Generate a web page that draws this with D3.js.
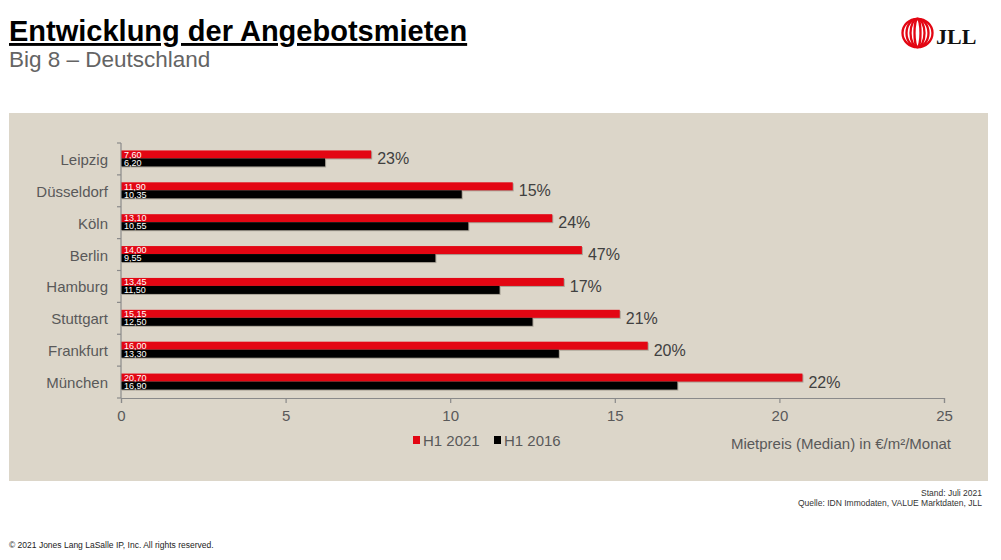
<!DOCTYPE html>
<html>
<head>
<meta charset="utf-8">
<script src="https://cdn.jsdelivr.net/npm/d3@7"></script>
<style>
  html, body { margin:0; padding:0; background:#fff; }
  svg { display:block; font-family:"Liberation Sans", Arial, sans-serif; }
</style>
</head>
<body>
<svg id="chart" width="1001" height="560"></svg>
<script>
// ---- data ----
const cities   = ["Leipzig","Düsseldorf","Köln","Berlin","Hamburg","Stuttgart","Frankfurt","München"];
const rent2021 = [7.60, 11.90, 13.10, 14.00, 13.45, 15.15, 16.00, 20.70];
const rent2016 = [6.20, 10.35, 10.55, 9.55, 11.50, 12.50, 13.30, 16.90];
const growthLabels = ["23%","15%","24%","47%","17%","21%","20%","22%"];
const xTicks   = [0, 5, 10, 15, 20, 25];
const seriesNames = ["H1 2021", "H1 2016"];
const seriesColors = ["#e30613", "#000000"];

const svg = d3.select("#chart");
const deLocale = d3.formatLocale({decimal: ",", thousands: ".", grouping: [3], currency: ["", " €"]});
const fmt = deLocale.format(".2f");

// background panel
svg.append("rect").attr("x", 9).attr("y", 113).attr("width", 979).attr("height", 368)
  .attr("fill", "#dcd6c9");

// title
svg.append("text").attr("x", 9).attr("y", 41)
  .attr("font-size", 29).attr("font-weight", "bold").attr("fill", "#000")
  .style("text-decoration", "underline")
  .text("Entwicklung der Angebotsmieten");
svg.append("text").attr("x", 9).attr("y", 67)
  .attr("font-size", 22.5).attr("fill", "#646464")
  .text("Big 8 – Deutschland");

// logo
const logo = svg.append("g").attr("transform", "translate(917.5,33)");
[15, 11, 7, 3].forEach(rx => {
  logo.append("ellipse").attr("rx", rx).attr("ry", 14.2)
    .attr("fill", "none").attr("stroke", "#e30613").attr("stroke-width", 2.3);
});
svg.append("text").attr("x", 936).attr("y", 44)
  .attr("font-family", "'Liberation Serif', 'Times New Roman', serif")
  .attr("font-weight", "bold").attr("font-size", 22).attr("fill", "#111")
  .text("JLL");

// scales
const x = d3.scaleLinear().domain([0, 25]).range([121, 944]);
const y = d3.scaleBand().domain(cities).range([143, 398]).paddingInner(0).paddingOuter(0);
const barH = 8;
const axisColor = "#8a8a8a";

// bar shadows
const g = svg.append("g");
cities.forEach((c, i) => {
  const cy = y(c) + y.bandwidth() / 2;
  g.append("rect").attr("x", x(0)).attr("y", cy - barH).attr("width", x(rent2021[i]) - x(0) + 1)
    .attr("height", barH * 2 + 1).attr("fill", "#b0aa9e").attr("opacity", 0.0);
});

// bars
cities.forEach((c, i) => {
  const cy = y(c) + y.bandwidth() / 2 - 0.5;
  // shadow
  g.append("rect").attr("x", x(0) + 1).attr("y", cy - barH + 1)
    .attr("width", x(rent2021[i]) - x(0)).attr("height", barH).attr("fill", "#a8a296");
  g.append("rect").attr("x", x(0) + 1).attr("y", cy + 1)
    .attr("width", x(rent2016[i]) - x(0)).attr("height", barH).attr("fill", "#a8a296");
  g.append("rect").attr("x", x(0)).attr("y", cy - barH)
    .attr("width", x(rent2021[i]) - x(0)).attr("height", barH).attr("fill", seriesColors[0]);
  g.append("rect").attr("x", x(0)).attr("y", cy)
    .attr("width", x(rent2016[i]) - x(0)).attr("height", barH).attr("fill", seriesColors[1]);
  // value labels
  g.append("text").attr("x", x(0) + 3).attr("y", cy - barH / 2 + 0.3)
    .attr("dominant-baseline", "central").attr("font-size", 9).attr("fill", "#fff")
    .text(fmt(rent2021[i]));
  g.append("text").attr("x", x(0) + 3).attr("y", cy + barH / 2 + 0.3)
    .attr("dominant-baseline", "central").attr("font-size", 9).attr("fill", "#fff")
    .text(fmt(rent2016[i]));
  // growth label
  g.append("text").attr("x", x(rent2021[i]) + 6).attr("y", cy + 0.5)
    .attr("dominant-baseline", "central").attr("font-size", 16).attr("fill", "#404040")
    .text(growthLabels[i]);
});

// y axis
const yAxis = svg.append("g");
yAxis.append("line").attr("x1", x(0)).attr("x2", x(0)).attr("y1", 143).attr("y2", 398)
  .attr("stroke", axisColor).attr("stroke-width", 1.2);
cities.concat([null]).forEach((c, i) => {
  const yy = c ? y(c) : 398;
  yAxis.append("line").attr("x1", x(0) - 4).attr("x2", x(0)).attr("y1", yy).attr("y2", yy)
    .attr("stroke", axisColor).attr("stroke-width", 1.2);
});
cities.forEach(c => {
  yAxis.append("text").attr("x", 108).attr("y", y(c) + y.bandwidth() / 2 + 0.5)
    .attr("text-anchor", "end").attr("dominant-baseline", "central")
    .attr("font-size", 15).attr("fill", "#595959").text(c);
});

// x axis
const xAxis = svg.append("g").attr("transform", "translate(0,398)")
  .call(d3.axisBottom(x).tickValues(xTicks).tickSize(5).tickPadding(7).tickFormat(d3.format("d")));
xAxis.select(".domain").attr("stroke", axisColor).attr("stroke-width", 1.2);
xAxis.selectAll(".tick line").attr("stroke", axisColor).attr("stroke-width", 1.2);
xAxis.selectAll(".tick text").attr("font-size", 15).attr("fill", "#595959")
  .attr("font-family", "'Liberation Sans', Arial, sans-serif");

// legend
const legendX = [413, 494];
seriesNames.forEach((n, i) => {
  svg.append("rect").attr("x", legendX[i]).attr("y", 436).attr("width", 7).attr("height", 8)
    .attr("fill", seriesColors[i]);
  svg.append("text").attr("x", legendX[i] + 10).attr("y", 440.5)
    .attr("dominant-baseline", "central").attr("font-size", 15).attr("fill", "#595959").text(n);
});

// axis title
svg.append("text").attr("x", 951).attr("y", 443.5).attr("text-anchor", "end")
  .attr("dominant-baseline", "central").attr("font-size", 15).attr("fill", "#595959")
  .text("Mietpreis (Median) in €/m²/Monat");

// footer
svg.append("text").attr("x", 982).attr("y", 496).attr("text-anchor", "end")
  .attr("font-size", 8.5).attr("fill", "#333").text("Stand: Juli 2021");
svg.append("text").attr("x", 982).attr("y", 506).attr("text-anchor", "end")
  .attr("font-size", 8.5).attr("fill", "#333").text("Quelle: IDN Immodaten, VALUE Marktdaten, JLL");
svg.append("text").attr("x", 9).attr("y", 548)
  .attr("font-size", 8.5).attr("fill", "#222").text("© 2021 Jones Lang LaSalle IP, Inc. All rights reserved.");
</script>
</body>
</html>
